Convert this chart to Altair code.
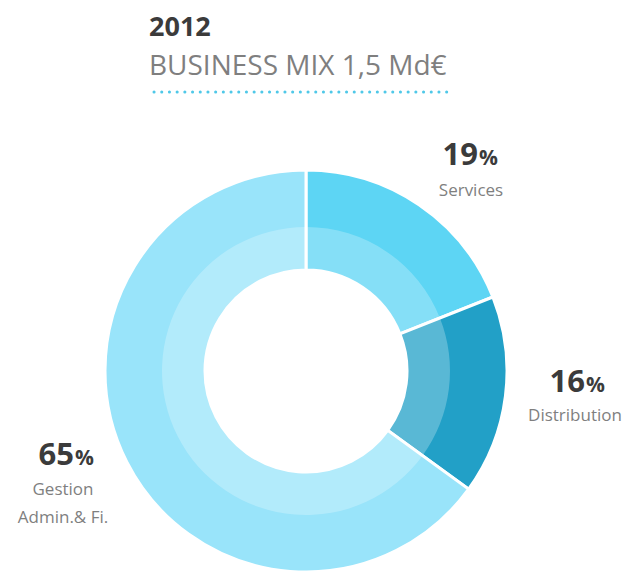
import altair as alt
import pandas as pd

categories = ["Services", "Distribution", "Gestion Admin.& Fi."]
shares = [19, 16, 65]
order = [1, 2, 3]
colors = ["#5DD5F4", "#22A0C7", "#99E4FA"]
pct_labels = ["19", "16", "65"]

df = pd.DataFrame({"cat": categories, "share": shares, "ord": order})

FONT = "Open Sans"
CX, CY = 298, 363

color_scale = alt.Scale(domain=categories, range=colors)

base = alt.Chart(df).encode(
    theta=alt.Theta("share:Q", stack=True),
    order=alt.Order("ord:Q"),
    color=alt.Color("cat:N", scale=color_scale, legend=None),
)

ring = base.mark_arc(radius=201, radius2=101, stroke="white", strokeWidth=3).encode(
    x=alt.value(CX), y=alt.value(CY)
)
inner = base.mark_arc(radius=144, radius2=101, fill="white", fillOpacity=0.25, strokeWidth=0).encode(
    x=alt.value(CX), y=alt.value(CY)
)

one = alt.Chart(pd.DataFrame({"a": [0]}))

def txt(text, x, y, size, color, weight="normal", align="left"):
    return one.mark_text(text=text, font=FONT, fontSize=size, color=color,
                         fontWeight=weight, align=align, baseline="alphabetic").encode(
        x=alt.value(x), y=alt.value(y))

layers = [ring, inner]
layers.append(txt("2012", 141, 28, 27, "#3B3B3B", "bold"))
layers.append(txt("BUSINESS MIX 1,5 Md€", 141, 67, 28, "#7F7F7F"))
layers.append(one.mark_rule(color="#4FC8E8", strokeWidth=3, strokeCap="round", strokeDash=[0.1, 7.6]).encode(
    x=alt.value(146), x2=alt.value(446), y=alt.value(84)))

# segment labels
lab = [
    (pct_labels[0], 470, 157, 463, 188, ["Services"]),
    (pct_labels[1], 577, 384, 567, 413, ["Distribution"]),
    (pct_labels[2], 66, 457, 55, 487, ["Gestion", "Admin.& Fi."]),
]
for num, nx, ny, lx, ly, lines in lab:
    layers.append(txt(num, nx, ny, 31, "#3B3B3B", "bold", "right"))
    layers.append(txt("%", nx + 1, ny, 21, "#3B3B3B", "bold", "left"))
    for i, line in enumerate(lines):
        layers.append(txt(line, lx, ly + i * 28, 17, "#7F7F7F", "normal", "center"))

chart = alt.layer(*layers).properties(
    width=616, height=566,
    autosize=alt.AutoSizeParams(type="fit", contains="padding"),
    padding=0,
).configure_view(stroke=None)

chart.save("out.html", embed_options={"renderer": "svg", "actions": False})
